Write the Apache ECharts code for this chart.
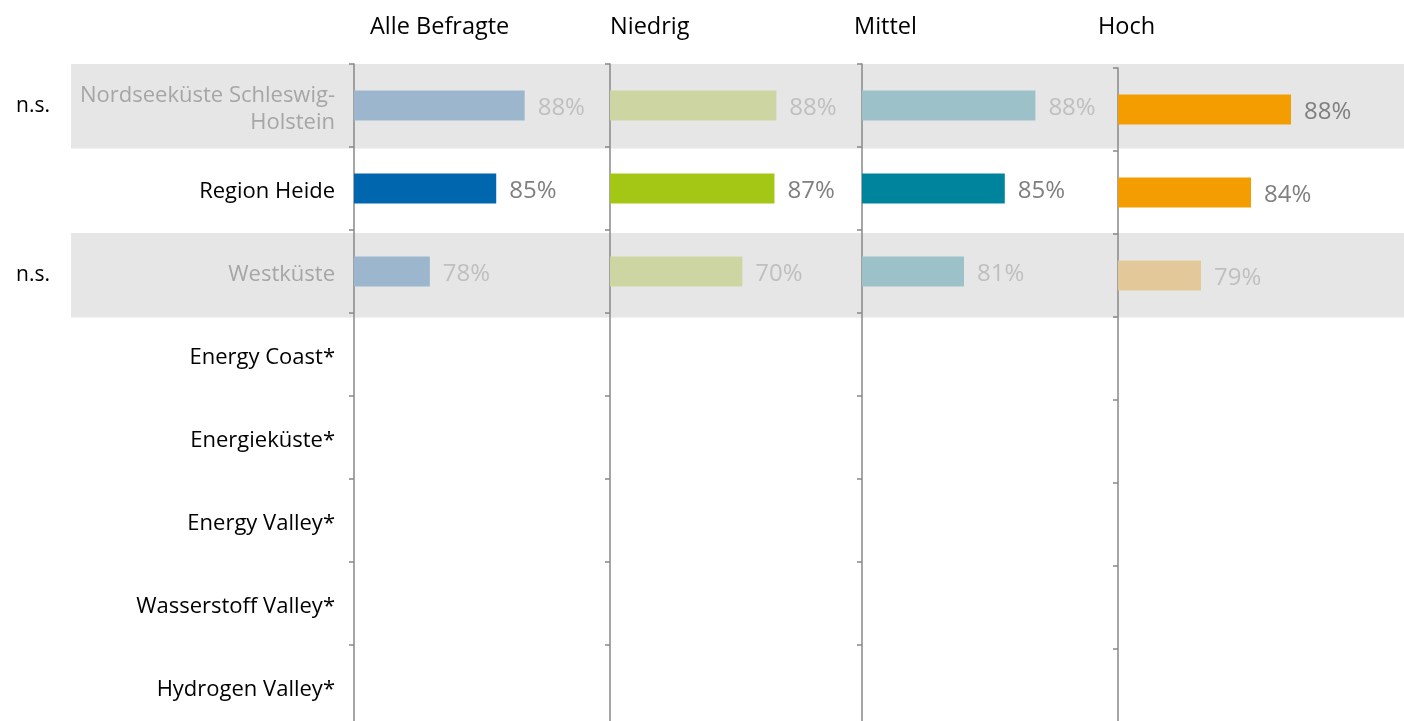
<!DOCTYPE html>
<html>
<head>
<meta charset="utf-8">
<script src="https://cdn.jsdelivr.net/npm/echarts@6/dist/echarts.min.js"></script>
<style>
  html, body { margin: 0; padding: 0; background: #fff; overflow: hidden; }
  #chart { width: 1404px; height: 740px; }
</style>
</head>
<body>
<div id="chart"></div>
<script>
// Daten
var categories = ['Nordseeküste Schleswig-Holstein', 'Region Heide', 'Westküste', 'Energy Coast*',
    'Energieküste*', 'Energy Valley*', 'Wasserstoff Valley*', 'Hydrogen Valley*']
var nsRows = [1, 0, 1, 0, 0, 0, 0, 0]   // n.s. Zeilen (grau hinterlegt)
var panelTitles = ['Alle Befragte', 'Niedrig', 'Mittel', 'Hoch']
var alleValues = [88, 85, 78, null, null, null, null, null]
var niedrigValues = [88, 87, 70, null, null, null, null, null]
var mittelValues = [88, 85, 81, null, null, null, null, null]
var hochValues = [88, 84, 79, null, null, null, null, null]
var hochFaded = [0, 0, 1, 0, 0, 0, 0, 0]

var FONT = '"Open Sans", sans-serif'

// Layout / Farben pro Panel
var panels = [
    { values: alleValues, fade: nsRows, left: 354, width: 256, top: 64, min: 70, max: 97,
      main: '#0066ad', faded: '#9cb7cd', title: 370 },
    { values: niedrigValues, fade: nsRows, left: 610, width: 252, top: 64, min: 0, max: 133.3,
      main: '#a4c615', faded: '#cdd6a3', title: 610 },
    { values: mittelValues, fade: nsRows, left: 862, width: 256, top: 64, min: 71, max: 96.1,
      main: '#00849d', faded: '#9cc1c9', title: 854 },
    { values: hochValues, fade: hochFaded, left: 1118, width: 286, top: 68, min: 70.7, max: 99.3,
      main: '#f49d00', faded: '#e3c99a', title: 1098 }
]
var ROW = 83

var grids = [], xAxes = [], yAxes = [], series = [], titles = []

// Hintergrund-Bänder für n.s.-Zeilen
grids.push({ left: 71, right: 0, top: 64, height: 84.5 * categories.length })
xAxes.push({ gridIndex: 0, type: 'value', min: 0, max: 1, show: false })
yAxes.push({
    gridIndex: 0, type: 'category', inverse: true, data: categories,
    axisLine: { show: false }, axisTick: { show: false },
    axisLabel: {
        margin: 21, fontFamily: FONT, fontSize: 21, color: '#000',
        formatter: function (v, i) { return nsRows[i] ? 'n.s.' : '' }
    }
})
series.push({
    type: 'bar', xAxisIndex: 0, yAxisIndex: 0, silent: true, z: -1,
    barWidth: '100%', itemStyle: { color: '#e6e6e6' },
    data: nsRows
})

panels.forEach(function (p, k) {
    var gi = k + 1
    grids.push({ left: p.left, width: p.width, top: p.top, height: ROW * categories.length })
    xAxes.push({ gridIndex: gi, type: 'value', min: p.min, max: p.max, show: false })
    yAxes.push({
        gridIndex: gi, type: 'category', inverse: true, data: categories,
        axisLine: { show: true, lineStyle: { color: '#888', width: 1.5 } },
        axisTick: { show: true, length: 5, lineStyle: { color: '#888', width: 1.5 } },
        axisLabel: {
            show: k === 0, margin: 19, fontFamily: FONT, fontSize: 22, lineHeight: 27,
            padding: [7, 0, 0, 0],
            formatter: function (v, i) {
                var t = v.replace('Schleswig-', 'Schleswig-\n')
                return nsRows[i] ? '{g|' + t + '}' : '{b|' + t + '}'
            },
            rich: {
                g: { color: '#a6a6a6', fontFamily: FONT, fontSize: 22, lineHeight: 27, align: 'right' },
                b: { color: '#000', fontFamily: FONT, fontSize: 22, lineHeight: 27, align: 'right' }
            }
        }
    })
    series.push({
        type: 'bar', xAxisIndex: gi, yAxisIndex: gi, barWidth: 30,
        data: p.values.map(function (v, i) {
            var f = p.fade[i]
            return {
                value: v,
                itemStyle: { color: f ? p.faded : p.main },
                label: { color: f ? '#bfbfbf' : '#7f7f7f' }
            }
        }),
        label: {
            show: true, position: 'right', distance: 13, offset: [0, 3],
            fontFamily: FONT, fontSize: 24,
            formatter: function (d) { return d.value == null ? '' : d.value + '%' }
        }
    })
    titles.push({
        text: panelTitles[k], left: p.title, top: 15, padding: 0,
        textStyle: { fontFamily: FONT, fontSize: 23.5, fontWeight: 'normal', color: '#000' }
    })
})

var option = {
    animation: false,
    title: titles,
    grid: grids,
    xAxis: xAxes,
    yAxis: yAxes,
    series: series
}
echarts.init(document.getElementById('chart')).setOption(option)
</script>
</body>
</html>
